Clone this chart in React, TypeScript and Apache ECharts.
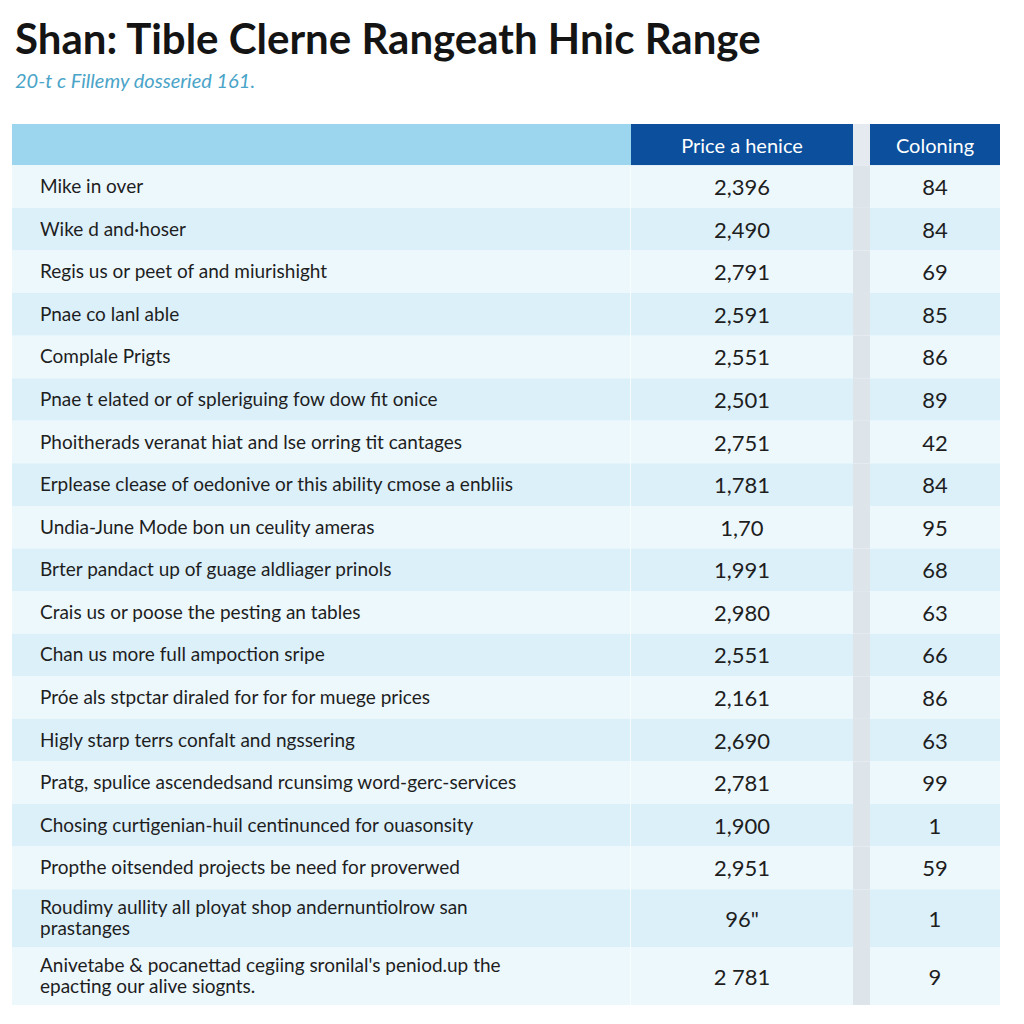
import React, { useEffect, useRef } from "react";
import * as echarts from "echarts";

const TITLE = "Shan: Tible Clerne Rangeath Hnic Range";
const SUBTITLE = "20-t c Fillemy dosseried 161.";
const HEADERS = ["", "Price a henice", "Coloning"];

const LABELS = [
  "Mike in over",
  "Wike d and·hoser",
  "Regis us or peet of and miurishight",
  "Pnae co lanl able",
  "Complale Prigts",
  "Pnae t elated or of spleriguing fow dow fit onice",
  "Phoitherads veranat hiat and lse orring tit cantages",
  "Erplease clease of oedonive or this ability cmose a enbliis",
  "Undia-June Mode bon un ceulity ameras",
  "Brter pandact up of guage aldliager prinols",
  "Crais us or poose the pesting an tables",
  "Chan us more full ampoction sripe",
  "Próe als stpctar diraled for for for muege prices",
  "Higly starp terrs confalt and ngssering",
  "Pratg, spulice ascendedsand rcunsimg word-gerc-services",
  "Chosing curtigenian-huil centinunced for ouasonsity",
  "Propthe oitsended projects be need for proverwed",
  "Roudimy aullity all ployat shop andernuntiolrow san\nprastanges",
  "Anivetabe & pocanettad cegiing sronilal's peniod.up the\nepacting our alive siognts.",
];

const PRICES = [
  "2,396", "2,490", "2,791", "2,591", "2,551", "2,501", "2,751", "1,781", "1,70",
  "1,991", "2,980", "2,551", "2,161", "2,690", "2,781", "1,900", "2,951", "96\"", "2 781",
];

const COLONINGS = [
  "84", "84", "69", "85", "86", "89", "42", "84", "95",
  "68", "63", "66", "86", "63", "99", "1", "59", "1", "9",
];

// layout constants (pixels on the x axis, which is mapped 1:1 to the page)
const X_LEFT = 12;
const X_COL2 = 631;
const X_GAP = 853;
const X_COL3 = 870;
const X_RIGHT = 1000;
const FONT = "Lato, 'Open Sans', sans-serif";

function buildRows() {
  const rows: number[][] = [[-1, 0, 0.97]];
  let y = 0.97;
  LABELS.forEach((l, i) => {
    const lines = l.split("\n").length;
    const h = lines > 1 ? 1.36 : 1;
    rows.push([i, y, y + h]);
    y += h;
  });
  return { rows, total: y };
}

export default function App() {
  const ref = useRef<HTMLDivElement>(null);
  useEffect(() => {
    if (!ref.current) return;
    const chart = echarts.init(ref.current, null, { renderer: "svg" });
    const { rows, total } = buildRows();

    const renderItem = (params: any, api: any) => {
      const idx = api.value(0);
      const top = api.coord([X_LEFT, api.value(1)])[1];
      const bot = api.coord([X_LEFT, api.value(2)])[1];
      const h = bot - top;
      const xs = (v: number) => api.coord([v, 0])[0];
      const x0 = xs(X_LEFT), x1 = xs(X_COL2), x2 = xs(X_GAP), x3 = xs(X_COL3), x4 = xs(X_RIGHT);
      const cy = top + h / 2;
      const children: any[] = [];
      if (idx < 0) {
        children.push({ type: "rect", shape: { x: x0, y: top, width: x1 - x0, height: h }, style: { fill: "#9bd5ee" } });
        children.push({ type: "rect", shape: { x: x1, y: top, width: x2 - x1, height: h }, style: { fill: "#0b4f9d" } });
        children.push({ type: "rect", shape: { x: x2, y: top, width: x3 - x2, height: h }, style: { fill: "#e4eaef" } });
        children.push({ type: "rect", shape: { x: x3, y: top, width: x4 - x3, height: h }, style: { fill: "#0b4f9d" } });
        children.push({
          type: "text",
          style: { text: HEADERS[1], x: (x1 + x2) / 2, y: cy, fill: "#ffffff", font: `20px ${FONT}`, align: "center", verticalAlign: "middle", textAlign: "center", textVerticalAlign: "middle" },
        });
        children.push({
          type: "text",
          style: { text: HEADERS[2], x: (x3 + x4) / 2, y: cy, fill: "#ffffff", font: `20px ${FONT}`, align: "center", verticalAlign: "middle", textAlign: "center", textVerticalAlign: "middle" },
        });
      } else {
        const fill = idx % 2 === 0 ? "#edf8fd" : "#dcf0fa";
        children.push({ type: "rect", shape: { x: x0, y: top, width: x1 - x0 - 1, height: h }, style: { fill } });
        children.push({ type: "rect", shape: { x: x1 - 1, y: top, width: 1, height: h }, style: { fill: "#f7fcfe" } });
        children.push({ type: "rect", shape: { x: x1, y: top, width: x2 - x1, height: h }, style: { fill } });
        children.push({ type: "rect", shape: { x: x2, y: top, width: x3 - x2, height: h }, style: { fill: "#dde5eb" } });
        children.push({ type: "rect", shape: { x: x3, y: top, width: x4 - x3, height: h }, style: { fill } });
        children.push({
          type: "text",
          style: { text: LABELS[idx], x: x0 + 28, y: cy - 1, fill: "#1e1e1e", font: `19px ${FONT}`, lineHeight: 21, align: "left", verticalAlign: "middle", textAlign: "left", textVerticalAlign: "middle" },
        });
        children.push({
          type: "text",
          style: { text: PRICES[idx], x: (x1 + x2) / 2, y: cy, fill: "#1e1e1e", font: `22px ${FONT}`, align: "center", verticalAlign: "middle", textAlign: "center", textVerticalAlign: "middle" },
        });
        children.push({
          type: "text",
          style: { text: COLONINGS[idx], x: (x3 + x4) / 2, y: cy, fill: "#1e1e1e", font: `22px ${FONT}`, align: "center", verticalAlign: "middle", textAlign: "center", textVerticalAlign: "middle" },
        });
      }
      return { type: "group", children };
    };

    chart.setOption({
      animation: false,
      backgroundColor: "#ffffff",
      title: {
        text: TITLE,
        subtext: SUBTITLE,
        left: 10,
        top: 12,
        itemGap: 11,
        textStyle: { fontFamily: FONT, fontSize: 42, fontWeight: "bold", color: "#141414" },
        subtextStyle: { fontFamily: FONT, fontSize: 20, fontStyle: "italic", color: "#4aa4c8" },
      },
      grid: { left: 12, right: 24, top: 124, bottom: 19 },
      xAxis: { type: "value", min: X_LEFT, max: X_RIGHT, show: false },
      yAxis: { type: "value", min: 0, max: total, inverse: true, show: false },
      series: [
        {
          type: "custom",
          renderItem,
          data: rows,
          clip: false,
          silent: true,
        },
      ],
    });
    return () => chart.dispose();
  }, []);
  return <div ref={ref} style={{ width: 1024, height: 1024, position: "absolute", left: 0, top: 0 }} />;
}
